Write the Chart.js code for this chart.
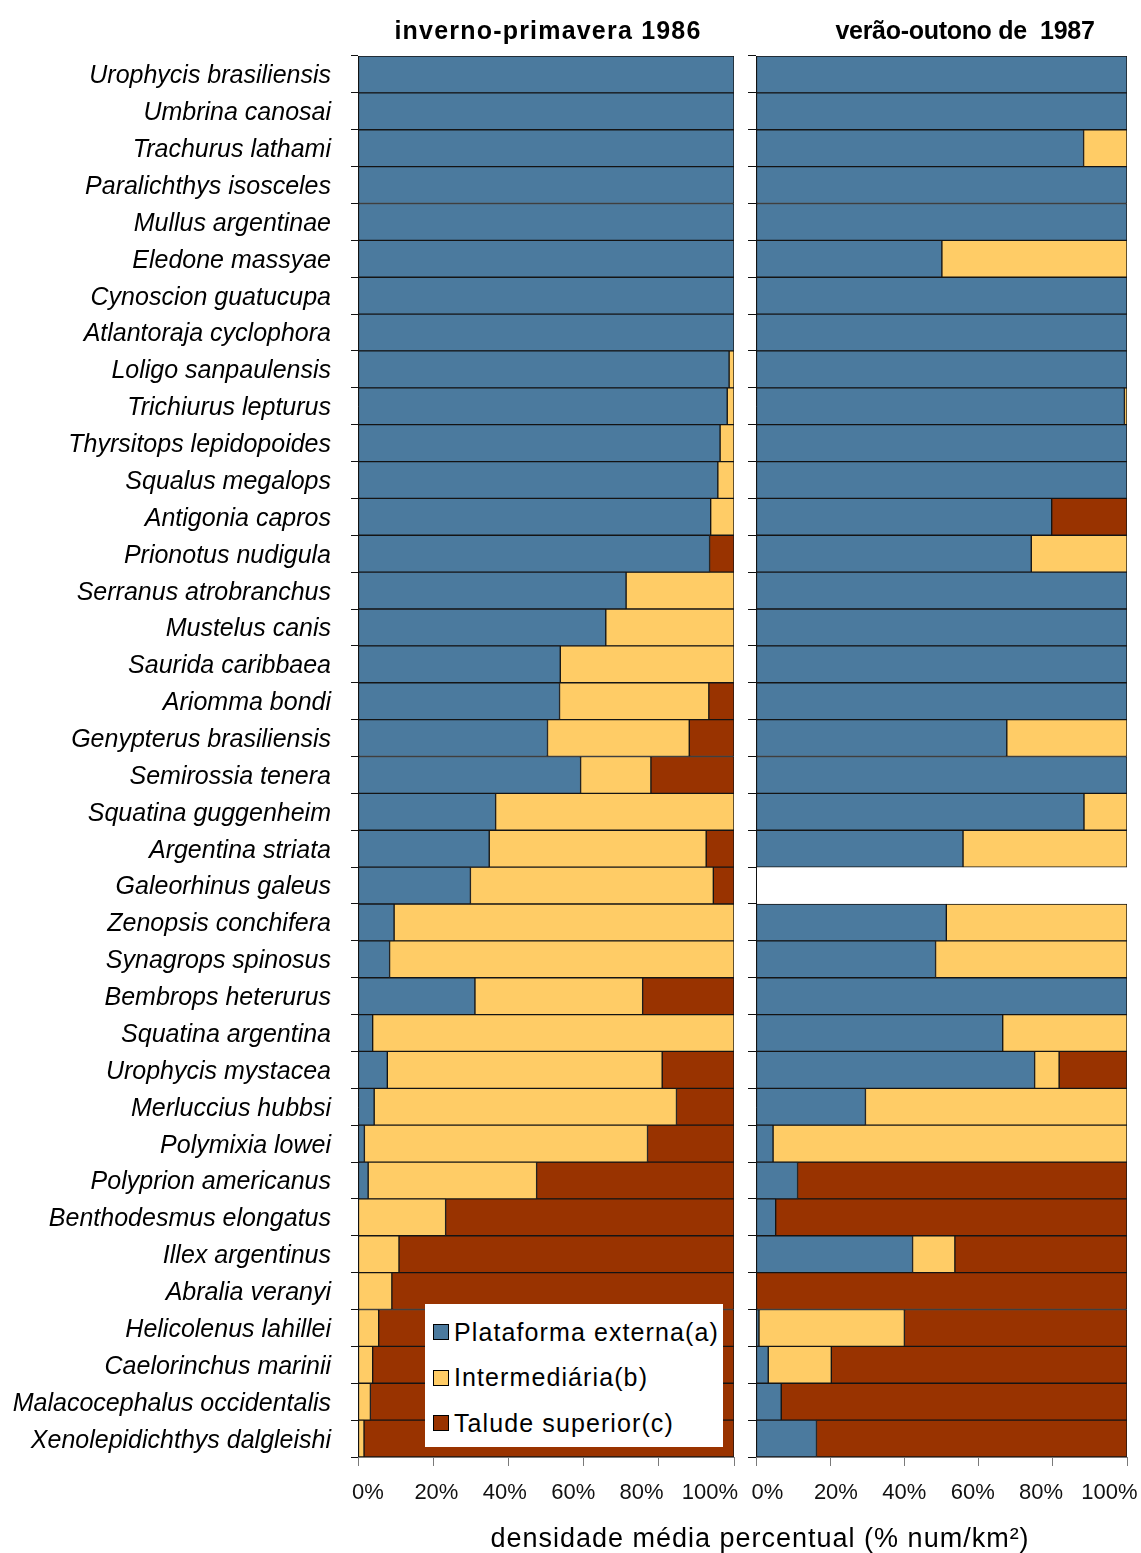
<!DOCTYPE html>
<html>
<head>
<meta charset="utf-8">
<script src="https://cdn.jsdelivr.net/npm/chart.js@4.4.1/dist/chart.umd.min.js"></script>
<style>
  html, body { margin: 0; padding: 0; background: #fff; }
  #wrap { position: relative; width: 1141px; height: 1553px; font-family: "Liberation Sans", Arial, sans-serif; color: #000; overflow: hidden; }
  canvas { position: absolute; top: 0; }
  #cLeft { left: 0; }
  #cRight { left: 740px; }
  .ptitle { position: absolute; top: 14px; font-weight: bold; font-size: 25px; line-height: 32px; white-space: nowrap; transform: translateX(-50%); }
  #tLeft { left: 548px; letter-spacing: 1.2px; }
  #tRight { left: 965px; letter-spacing: -0.3px; }
  #xtitle { position: absolute; left: 760px; top: 1522px; font-size: 27px; line-height: 32px; letter-spacing: 1px; white-space: nowrap; transform: translateX(-50%); }
  #legend { position: absolute; left: 425px; top: 1304px; width: 298px; height: 143px; background: #fff; }
  .li { position: absolute; left: 8px; height: 30px; display: flex; align-items: center; font-size: 25px; letter-spacing: 1.1px; white-space: nowrap; }
  .sw { width: 14px; height: 14px; border: 1px solid #000; margin-right: 5px; flex: none; }
</style>
</head>
<body>
<div id="wrap">
  <canvas id="cLeft" width="745" height="1553"></canvas>
  <canvas id="cRight" width="401" height="1553"></canvas>
  <div class="ptitle" id="tLeft">inverno-primavera 1986</div>
  <div class="ptitle" id="tRight">verão-outono de&nbsp; 1987</div>
  <div id="legend"></div>
  <div id="xtitle">densidade média percentual (% num/km²)</div>
</div>
<script>
// Species, top to bottom
const species = [
  'Urophycis brasiliensis', 'Umbrina canosai', 'Trachurus lathami', 'Paralichthys isosceles',
  'Mullus argentinae', 'Eledone massyae', 'Cynoscion guatucupa', 'Atlantoraja cyclophora',
  'Loligo sanpaulensis', 'Trichiurus lepturus', 'Thyrsitops lepidopoides', 'Squalus megalops',
  'Antigonia capros', 'Prionotus nudigula', 'Serranus atrobranchus', 'Mustelus canis',
  'Saurida caribbaea', 'Ariomma bondi', 'Genypterus brasiliensis', 'Semirossia tenera',
  'Squatina guggenheim', 'Argentina striata', 'Galeorhinus galeus', 'Zenopsis conchifera',
  'Synagrops spinosus', 'Bembrops heterurus', 'Squatina argentina', 'Urophycis mystacea',
  'Merluccius hubbsi', 'Polymixia lowei', 'Polyprion americanus', 'Benthodesmus elongatus',
  'Illex argentinus', 'Abralia veranyi', 'Helicolenus lahillei', 'Caelorinchus marinii',
  'Malacocephalus occidentalis', 'Xenolepidichthys dalgleishi'
];

const zoneNames = ['Plataforma externa(a)', 'Intermediária(b)', 'Talude superior(c)'];

// inverno-primavera 1986 (% of mean density)
const winterShelf = [100, 100, 100, 100, 100, 100, 100, 100, 98.7, 98.2, 96.3, 95.7, 93.8, 93.5, 71.3, 65.9,
  53.8, 53.6, 50.4, 59.2, 36.6, 34.9, 29.9, 9.6, 8.4, 31.1, 3.9, 7.8, 4.3, 1.7, 2.7, 0, 0, 0, 0, 0, 0, 0];
const winterMid = [0, 0, 0, 0, 0, 0, 0, 0, 1.3, 1.8, 3.7, 4.3, 6.2, 0, 28.7, 34.1,
  46.2, 39.7, 37.7, 18.7, 63.4, 57.7, 64.6, 90.4, 91.6, 44.6, 96.1, 73.1, 80.4, 75.3, 44.8, 23.3, 10.9, 9, 5.5, 3.9, 3.3, 1.6];
const winterSlope = [0, 0, 0, 0, 0, 0, 0, 0, 0, 0, 0, 0, 0, 6.5, 0, 0,
  0, 6.7, 11.9, 22.1, 0, 7.4, 5.5, 0, 0, 24.3, 0, 19.1, 15.3, 23, 52.5, 76.7, 89.1, 91, 94.5, 96.1, 96.7, 98.4];

// verão-outono 1987 (% of mean density); Galeorhinus galeus not caught
const summerShelf = [100, 100, 88.3, 100, 100, 50.1, 100, 100, 100, 99.3, 100, 100, 79.7, 74.2, 100, 100,
  100, 100, 67.6, 100, 88.4, 55.8, null, 51.3, 48.4, 100, 66.5, 75.1, 29.5, 4.6, 11.2, 5.3, 42.2, 0, 0.8, 3.3, 6.8, 16.3];
const summerMid = [0, 0, 11.7, 0, 0, 49.9, 0, 0, 0, 0.7, 0, 0, 0, 25.8, 0, 0,
  0, 0, 32.4, 0, 11.6, 44.2, null, 48.7, 51.6, 0, 33.5, 6.6, 70.5, 95.4, 0, 0, 11.4, 0, 39.2, 17, 0, 0];
const summerSlope = [0, 0, 0, 0, 0, 0, 0, 0, 0, 0, 0, 0, 20.3, 0, 0, 0,
  0, 0, 0, 0, 0, 0, null, 0, 0, 0, 0, 18.3, 0, 0, 88.8, 94.7, 46.4, 100, 60, 79.7, 93.2, 83.7];

const xTicks = [0, 20, 40, 60, 80, 100];

const zoneColors = ['#4b7a9e', '#ffcc66', '#993300'];
const FONT = '"Liberation Sans", Arial, sans-serif';

function makeDatasets(series) {
  return series.map((data, i) => ({
    label: zoneNames[i],
    data: data,
    backgroundColor: zoneColors[i],
    borderColor: '#141414',
    borderWidth: 1,
    borderSkipped: false,
    barPercentage: 1,
    categoryPercentage: 1
  }));
}

// Tick-label axis range: the percentage labels sit on a slightly tighter
// spacing than the tick marks of the bar axis.
function panelOptions(isLeft) {
  const labelRange = isLeft ? [-2.924, 107.02] : [-3.363, 105.12];
  return {
    indexAxis: 'y',
    responsive: false,
    animation: false,
    devicePixelRatio: 1,
    layout: { padding: { top: 56, bottom: 47, left: isLeft ? 0 : 8, right: isLeft ? 11 : 14 } },
    plugins: { legend: { display: false }, tooltip: { enabled: false } },
    scales: {
      y: {
        stacked: true,
        position: 'left',
        grid: { drawOnChartArea: false, drawTicks: true, tickLength: isLeft ? 7 : 8, color: '#111', offset: true },
        border: { display: true, color: '#111', width: 1 },
        ticks: {
          display: isLeft, autoSkip: false, padding: 20, labelOffset: 2, color: '#000',
          font: { family: FONT, size: 25, style: 'italic' }
        },
        afterFit: (s) => { if (isLeft) s.width = 358; s.paddingTop = 0; s.paddingBottom = 0; }
      },
      x: {
        stacked: true,
        min: 0, max: 100,
        weight: 0,
        grid: { drawOnChartArea: false, drawTicks: true, tickLength: 9, color: '#7a7a7a' },
        border: { display: true, color: '#7a7a7a' },
        ticks: { display: false, stepSize: 20 },
        afterFit: (s) => { s.height = 9; s.paddingLeft = 0; s.paddingRight = 0; }
      },
      xl: {
        type: 'linear',
        axis: 'x',
        position: 'bottom',
        weight: 1,
        min: labelRange[0], max: labelRange[1],
        grid: { display: false, drawTicks: false },
        border: { display: false },
        ticks: {
          padding: 14, color: '#111',
          font: { family: FONT, size: 22 },
          callback: (v) => v + '%'
        },
        afterBuildTicks: (s) => { s.ticks = xTicks.map(v => ({ value: v })); },
        afterFit: (s) => { s.height = 40; s.paddingLeft = 0; s.paddingRight = 0; }
      }
    }
  };
}

new Chart(document.getElementById('cLeft'), {
  type: 'bar',
  data: { labels: species, datasets: makeDatasets([winterShelf, winterMid, winterSlope]) },
  options: panelOptions(true)
});

new Chart(document.getElementById('cRight'), {
  type: 'bar',
  data: { labels: species, datasets: makeDatasets([summerShelf, summerMid, summerSlope]) },
  options: panelOptions(false)
});

// Legend box inside the winter panel
const legend = document.getElementById('legend');
zoneNames.forEach((name, i) => {
  const item = document.createElement('div');
  item.className = 'li';
  item.style.top = (13 + i * 45.5) + 'px';
  const sw = document.createElement('span');
  sw.className = 'sw';
  sw.style.background = zoneColors[i];
  const tx = document.createElement('span');
  tx.textContent = name;
  item.appendChild(sw);
  item.appendChild(tx);
  legend.appendChild(item);
});
</script>
</body>
</html>
